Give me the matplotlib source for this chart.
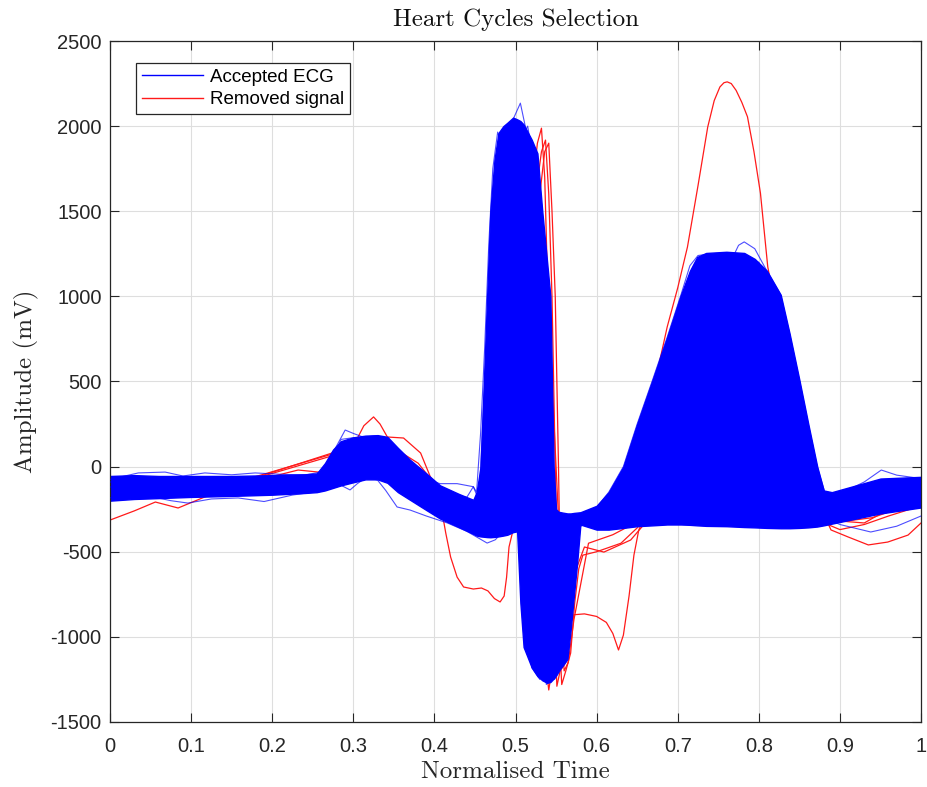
import matplotlib
matplotlib.use("Agg")
import matplotlib.pyplot as plt
from matplotlib.lines import Line2D

# ---------------- data ----------------
# Envelope of the dense band of accepted ECG cycles
env_t = [0.000, 0.030, 0.060, 0.100, 0.150, 0.200, 0.240, 0.255, 0.265, 0.275,
         0.285, 0.300, 0.315, 0.330, 0.342, 0.355, 0.370, 0.390, 0.407, 0.430,
         0.448, 0.452, 0.457, 0.461, 0.465, 0.469, 0.474, 0.479, 0.485, 0.490,
         0.497, 0.502, 0.506, 0.510, 0.520, 0.527, 0.533, 0.539, 0.543, 0.545,
         0.547, 0.550, 0.553, 0.558, 0.564, 0.568, 0.572, 0.576, 0.580, 0.600,
         0.615, 0.633, 0.650, 0.669, 0.687, 0.704, 0.715, 0.724, 0.735, 0.760,
         0.782, 0.795, 0.810, 0.827, 0.838, 0.850, 0.861, 0.872, 0.880, 0.890,
         0.920, 0.950, 1.000]
env_upper = [-55, -50, -55, -55, -55, -50, -45, -40, 20, 100,
             150, 172, 182, 185, 175, 110, 40, -40, -110, -160,
             -195, -150, 0, 500, 1000, 1500, 1800, 1960, 2000, 2020,
             2050, 2040, 2030, 2010, 1920, 1840, 1500, 1200, 1000, 500,
             0, -250, -265, -270, -275, -275, -272, -270, -268, -230,
             -150, 0, 250, 509, 760, 1009, 1150, 1232, 1255, 1262,
             1255, 1220, 1150, 1009, 780, 509, 250, 0, -140, -150,
             -110, -70, -60]
env_lower = [-200, -190, -185, -178, -172, -165, -155, -150, -140, -125,
             -110, -92, -75, -75, -95, -150, -195, -255, -305, -355,
             -395, -405, -410, -412, -414, -415, -413, -410, -405, -400,
             -385, -380, -800, -1060, -1180, -1230, -1255, -1270, -1265, -1255,
             -1245, -1225, -1200, -1170, -1130, -960, -760, -566, -340, -370,
             -370, -360, -350, -345, -340, -340, -342, -345, -348, -350,
             -355, -357, -360, -362, -362, -360, -357, -352, -345, -335,
             -305, -275, -240]

# Individual accepted cycles that stand out of the band
acc1_t = [0.000, 0.035, 0.068, 0.090, 0.117, 0.150, 0.179, 0.210, 0.241, 0.262,
          0.277, 0.290, 0.300, 0.312, 0.330, 0.345, 0.360, 0.380, 0.400, 0.420,
          0.440, 0.448, 0.452, 0.457, 0.462, 0.467, 0.472, 0.478, 0.483, 0.489,
          0.495, 0.502, 0.506, 0.509, 0.513, 0.520, 0.530, 0.538, 0.548, 0.556,
          0.562, 0.580, 0.600, 0.615, 0.633, 0.650, 0.669, 0.687, 0.704, 0.715,
          0.725, 0.740, 0.755, 0.765, 0.778, 0.790, 0.806, 0.830, 0.860, 0.900,
          0.950, 1.000]
acc1_v = [-75, -37, -32, -55, -37, -48, -37, -45, -49, -30,
          100, 215, 195, 174, 180, 140, 60, -40, -120, -160,
          -180, -118, -150, 200, 700, 1300, 1750, 1965, 1880, 1990,
          1950, 1700, 900, -300, -900, -1180, -1250, -1200, -900, -500,
          -300, -280, -240, -150, 0, 250, 509, 760, 1009, 1180,
          1240, 1250, 1200, 900, 300, -178, -296, -330, -300, -200,
          -100, -80]

acc2_t = [0.000, 0.019, 0.050, 0.075, 0.096, 0.125, 0.158, 0.190, 0.225, 0.250,
          0.270, 0.285, 0.296, 0.305, 0.317, 0.330, 0.340, 0.354, 0.370, 0.390,
          0.416, 0.440, 0.465, 0.475, 0.485, 0.490, 0.497, 0.505, 0.515, 0.522,
          0.530, 0.536, 0.542, 0.548, 0.555, 0.562, 0.570, 0.585, 0.620, 0.660,
          0.700, 0.740, 0.780, 0.800, 0.820, 0.845, 0.865, 0.880, 0.900, 0.938,
          0.970, 1.000]
acc2_v = [-184, -149, -175, -200, -214, -190, -184, -205, -167, -150,
          -130, -110, -137, -100, -60, -80, -140, -237, -255, -290,
          -331, -380, -449, -430, -380, 0, 1200, 1900, 2000, 1800,
          1000, -200, -1000, -1250, -1200, -800, -400, -330, -300, -150,
          300, 900, 1230, 1200, 900, 400, -100, -300, -340, -384,
          -350, -290]

acc3_t = [0.000, 0.100, 0.200, 0.260, 0.290, 0.330, 0.360, 0.400, 0.450, 0.465,
          0.470, 0.480, 0.490, 0.498, 0.506, 0.512, 0.518, 0.523, 0.528, 0.533,
          0.538, 0.543, 0.550, 0.560, 0.570, 0.600, 0.650, 0.700, 0.730, 0.755,
          0.775, 0.782, 0.795, 0.811, 0.827, 0.838, 0.850, 0.861, 0.872, 0.883,
          0.900, 0.930, 0.951, 0.970, 1.000]
acc3_v = [-120, -110, -100, -90, 120, 150, 20, -200, -300, -300,
          200, 1200, 1800, 2050, 2135, 2000, 1500, 600, -400, -1000,
          -1280, -1250, -900, -500, -320, -300, -200, 200, 700, 1100,
          1300, 1320, 1280, 1140, 1009, 780, 509, 250, 0, -178,
          -160, -90, -20, -50, -70]

acc4_t = [0.000, 0.050, 0.100, 0.150, 0.200, 0.250, 0.270, 0.285, 0.300, 0.320,
          0.340, 0.354, 0.360, 0.380, 0.407, 0.428, 0.448, 0.455, 0.460, 0.470,
          0.480, 0.490, 0.500, 0.510, 0.517, 0.522, 0.528, 0.535, 0.545, 0.555,
          0.565, 0.600, 0.650, 0.700, 0.740, 0.770, 0.790, 0.810, 0.830, 0.850,
          0.880, 0.950, 1.000]
acc4_v = [-90, -100, -95, -100, -95, -80, 0, 160, 170, 175,
          165, 0, -20, -60, -100, -100, -118, -200, 300, 1200,
          1800, 2000, 1980, 1700, 800, -300, -1000, -1200, -1100, -700,
          -320, -280, 100, 800, 1230, 1250, 1100, 600, 0, -250,
          -300, -150, -90]

# Removed cycles
rem1_t = [0.000, 0.030, 0.056, 0.084, 0.117, 0.150, 0.190, 0.232, 0.257, 0.280,
          0.300, 0.313, 0.325, 0.333, 0.342, 0.362, 0.383, 0.395, 0.405, 0.420,
          0.440, 0.458, 0.468, 0.480, 0.492, 0.505, 0.518, 0.526, 0.533, 0.541,
          0.548, 0.556, 0.565, 0.580, 0.600, 0.620, 0.640, 0.660, 0.675, 0.687,
          0.700, 0.712, 0.725, 0.737, 0.745, 0.752, 0.757, 0.761, 0.766, 0.772,
          0.779, 0.786, 0.794, 0.802, 0.811, 0.822, 0.834, 0.852, 0.866, 0.874,
          0.882, 0.889, 0.910, 0.935, 0.959, 0.984, 1.000]
rem1_v = [-314, -260, -208, -243, -178, -130, -70, -20, -32, -10,
          120, 240, 292, 250, 174, 168, 80, -60, -130, -190,
          -260, -280, 400, 1600, 1950, 1800, 600, -400, -1000, -1312,
          -1100, -700, -400, -330, -300, -240, -60, 300, 560, 820,
          1050, 1290, 1650, 1995, 2150, 2230, 2255, 2260, 2250, 2210,
          2140, 2055, 1850, 1606, 1174, 900, 700, 410, 100, -137,
          -300, -372, -413, -460, -443, -402, -331]

rem2_t = [0.000, 0.100, 0.200, 0.260, 0.300, 0.340, 0.380, 0.403, 0.409, 0.414,
          0.420, 0.428, 0.436, 0.448, 0.458, 0.466, 0.474, 0.481, 0.486, 0.489,
          0.492, 0.497, 0.505, 0.515, 0.525, 0.540, 0.553, 0.556, 0.560, 0.565,
          0.572, 0.585, 0.600, 0.612, 0.620, 0.627, 0.633, 0.640, 0.646, 0.652,
          0.660, 0.680, 0.700, 0.730, 0.760, 0.790, 0.820, 0.850, 0.870, 0.900,
          0.950, 1.000]
rem2_v = [-110, -100, -90, -80, 130, 140, 20, -118, -255, -390,
          -531, -649, -707, -719, -713, -730, -775, -795, -760, -650,
          -472, -372, -78, 1100, 1600, 1000, -300, -1000, -1080, -960,
          -870, -865, -880, -915, -980, -1077, -990, -760, -520, -372,
          -290, -150, 100, 700, 1000, 900, 400, -200, -330, -320,
          -250, -200]

rem3_t = [0.000, 0.150, 0.300, 0.340, 0.450, 0.490, 0.500, 0.510, 0.520, 0.527,
          0.532, 0.536, 0.540, 0.544, 0.548, 0.551, 0.555, 0.562, 0.568, 0.575,
          0.585, 0.609, 0.642, 0.660, 0.680, 0.700, 0.720, 0.753, 0.770, 0.782,
          0.800, 0.815, 0.840, 0.862, 0.875, 0.885, 0.930, 0.960, 1.000]
rem3_v = [-100, -110, 120, 130, -280, -300, -100, 800, 1600, 1900,
          1988, 1700, 1000, 0, -900, -1290, -1200, -1150, -900, -600,
          -472, -502, -431, -331, -200, 0, 300, 683, 1000, 1105,
          1050, 644, 300, -155, -300, -314, -331, -250, -155]

rem4_t = [0.000, 0.150, 0.300, 0.340, 0.450, 0.495, 0.505, 0.515, 0.525, 0.532,
          0.537, 0.541, 0.545, 0.549, 0.553, 0.557, 0.562, 0.568, 0.573, 0.578,
          0.583, 0.600, 0.630, 0.650, 0.670, 0.700, 0.730, 0.760, 0.794, 0.810,
          0.830, 0.852, 0.862, 0.875, 0.900, 0.930, 0.960, 1.000]
rem4_v = [-120, -100, 110, 120, -300, -300, -100, 800, 1600, 1850,
          1918, 1600, 1000, 0, -900, -1280, -1200, -1095, -800, -600,
          -520, -500, -450, -360, -250, 100, 500, 950, 1195, 1000,
          600, 136, -155, -320, -370, -340, -290, -230]

rem5_t = [0.000, 0.150, 0.300, 0.340, 0.450, 0.500, 0.510, 0.520, 0.530, 0.536,
          0.541, 0.545, 0.549, 0.553, 0.556, 0.560, 0.565, 0.572, 0.580, 0.590,
          0.620, 0.660, 0.700, 0.740, 0.770, 0.790, 0.810, 0.840, 0.870, 0.890,
          0.940, 1.000]
rem5_v = [-90, -110, 100, 130, -280, -300, -100, 800, 1600, 1850,
          1900, 1500, 1000, 0, -900, -1200, -1150, -900, -700, -450,
          -400, -300, -50, 550, 950, 1050, 850, 300, -200, -330,
          -300, -200]

x_ticks = [0, 0.1, 0.2, 0.3, 0.4, 0.5, 0.6, 0.7, 0.8, 0.9, 1]
x_tick_labels = ["0", "0.1", "0.2", "0.3", "0.4", "0.5", "0.6", "0.7", "0.8", "0.9", "1"]
y_ticks = [-1500, -1000, -500, 0, 500, 1000, 1500, 2000, 2500]
legend_labels = ["Accepted ECG", "Removed signal"]

# ---------------- figure ----------------
BLUE = (0, 0, 1)
RED = (1, 0.1, 0.1)
INK = "#262626"

fig = plt.figure(figsize=(9.28, 7.87), dpi=100)
ax = fig.add_axes([0.1185, 0.0826, 0.874, 0.8653])

removed = [(rem1_t, rem1_v), (rem2_t, rem2_v), (rem3_t, rem3_v),
           (rem4_t, rem4_v), (rem5_t, rem5_v)]
for t, v in removed:
    ax.plot(t, v, color=RED, lw=0.9, zorder=1.5)

ax.fill_between(env_t, env_lower, env_upper, facecolor=BLUE, edgecolor=BLUE,
                lw=1.0, zorder=2)

accepted = [(acc1_t, acc1_v), (acc2_t, acc2_v), (acc3_t, acc3_v),
            (acc4_t, acc4_v)]
for t, v in accepted:
    ax.plot(t, v, color=BLUE, lw=0.8, alpha=0.7, zorder=3)

ax.set_xlim(0, 1)
ax.set_ylim(-1500, 2500)
ax.set_xticks(x_ticks)
ax.set_xticklabels(x_tick_labels)
ax.set_yticks(y_ticks)
ax.set_yticklabels([str(v) for v in y_ticks])
ax.grid(True, color="#dedede", lw=0.8)
ax.set_axisbelow(True)
ax.tick_params(direction="in", top=True, right=True, length=6.5, width=0.8,
               colors=INK, labelsize=14.5, labelcolor=INK)
ax.tick_params(axis="x", pad=11)
ax.tick_params(axis="y", pad=6)
for lab in ax.get_xticklabels() + ax.get_yticklabels():
    lab.set_fontfamily("Liberation Sans")
for sp in ax.spines.values():
    sp.set_color(INK)
    sp.set_linewidth(0.9)

ax.set_title("Heart Cycles Selection", fontfamily="cmr10", fontsize=18,
             color="#111111", pad=11)
ax.set_xlabel("Normalised Time", fontfamily="cmr10", fontsize=18,
              color="#262626", labelpad=3)
ax.set_ylabel("Amplitude (mV)", fontfamily="cmr10", fontsize=18,
              color="#262626", labelpad=8)

handles = [Line2D([], [], color=BLUE, lw=1.0), Line2D([], [], color=RED, lw=1.0)]
leg = ax.legend(handles, legend_labels, loc="upper left",
                bbox_to_anchor=(0.032, 0.968), borderaxespad=0,
                fancybox=False, framealpha=1, edgecolor="#262626",
                prop={"family": "Liberation Sans", "size": 13.5},
                handlelength=3.3, handletextpad=0.35, borderpad=0.3,
                labelspacing=0.3)
leg.get_frame().set_linewidth(0.9)
leg.set_zorder(10)

fig.savefig("out.png", dpi=100)
